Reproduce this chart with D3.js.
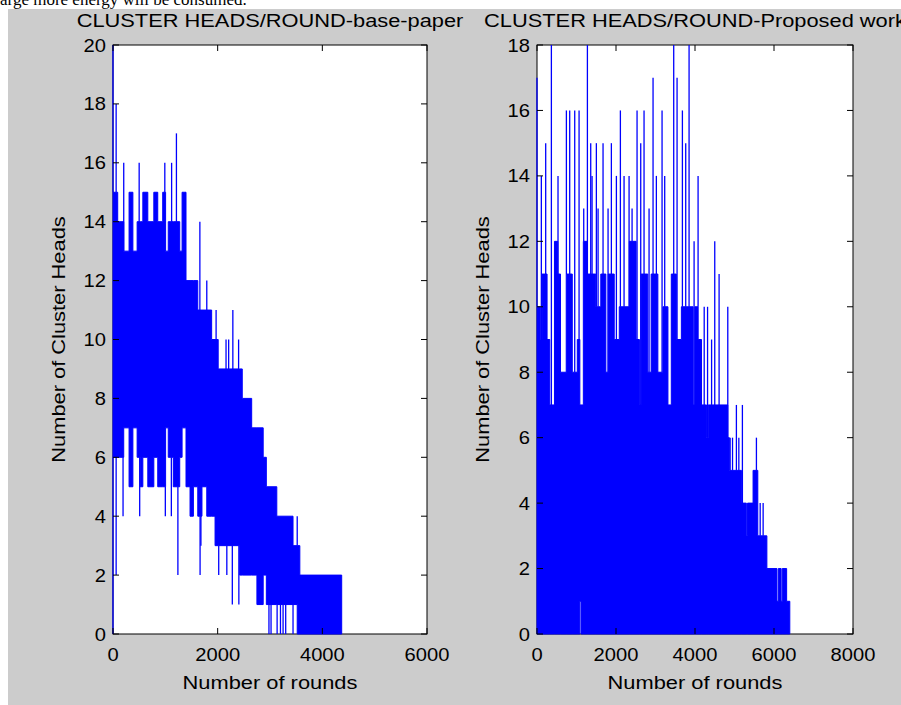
<!DOCTYPE html>
<html>
<head>
<meta charset="utf-8">
<title>Cluster heads per round</title>
<script src="https://cdnjs.cloudflare.com/ajax/libs/d3/7.8.5/d3.min.js"></script>
<style>
  html, body { margin: 0; padding: 0; background: #fff; }
  text { font-family: "Liberation Sans", Arial, sans-serif; fill: #000; }
</style>
</head>
<body>
<svg id="chart" width="901" height="705"></svg>
<script>
// base paper: the dense CH/round trace, read as a band per stretch of rounds
// (start round, upper CH count, lower CH count) plus the single spikes sticking out
var baseRounds = [0, 90, 205, 307, 380, 461, 520, 570, 665, 780, 855, 950, 1005, 1056, 1152, 1275, 1320, 1395, 1472, 1536,
                  1620, 1700, 1792, 1885, 1950, 2010, 2420, 2470, 2650, 2750, 2870, 2930, 3130, 3440, 3520, 3570];
var baseHigh = [15, 14, 13, 15, 13, 14, 14, 15, 14, 15, 14, 15, 13, 14, 14, 13, 15, 12, 12, 12,
                11, 11, 11, 10, 10, 9, 9, 8, 7, 7, 6, 5, 4, 3, 3, 2];
var baseLow = [6, 6, 7, 5, 7, 6, 5, 6, 5, 6, 5, 5, 7, 6, 5, 6, 7, 5, 4, 5,
               4, 5, 4, 4, 3, 3, 2, 2, 2, 1, 2, 1, 1, 1, 0, 0];
var baseEnd = 4370;
var baseSpikeRounds = [0, 0, 60, 60, 192, 205, 500, 510, 990, 1000, 1115, 1120, 1212, 1240, 1660, 1664, 1680, 1792,
                       1970, 2020, 2160, 2175, 2210, 2280, 2290, 2400, 2405, 2500, 2980, 3020, 3136, 3200, 3250, 3300, 3440, 3520];
var baseSpikeValues = [20, 0, 18, 2, 4, 16, 16, 4, 16, 4, 4, 16, 17, 2, 14, 2, 3, 12,
                       11, 2, 10, 2, 10, 1, 11, 10, 1, 2, 0, 0, 0, 0, 0, 0, 0, 4];

// proposed work
var propRounds = [0, 85, 128, 255, 323, 442, 527, 595, 740, 893, 1020, 1085, 1115, 1173, 1275, 1488, 1615, 1743, 1802, 1955,
                  2083, 2338, 2508, 2593, 2635, 2805, 2890, 3060, 3188, 3315, 3400, 3528, 3655, 3953, 3995, 4080, 4165, 4293, 4335, 4830,
                  4870, 5175, 5300, 5330, 5470, 5590, 5820, 6075, 6110, 6180, 6210, 6320];
var propHigh = [10, 9, 11, 9, 7, 12, 11, 8, 11, 8, 9, 7, 7, 12, 11, 10, 11, 8, 11, 9,
                10, 12, 9, 7, 11, 8, 11, 8, 10, 7, 11, 9, 10, 7, 10, 9, 7, 6, 7, 6,
                5, 4, 3, 4, 5, 3, 2, 1, 2, 1, 2, 1];
var propLow = [0, 0, 0, 0, 0, 0, 0, 0, 0, 0, 0, 1, 0, 0, 0, 0, 0, 0, 0, 0,
               0, 0, 0, 0, 0, 0, 0, 0, 0, 0, 0, 0, 0, 0, 0, 0, 0, 0, 0, 0,
               0, 0, 0, 0, 0, 0, 0, 0, 0, 0, 0, 0];
var propEnd = 6400;
var propSpikeRounds = [0, 110, 220, 364, 532, 744, 828, 955, 1065, 1183, 1276, 1360, 1394, 1503, 1546, 1672, 1799, 1883, 2010, 2111,
                       2204, 2331, 2407, 2533, 2626, 2710, 2837, 2938, 3022, 3166, 3233, 3461, 3546, 3681, 3765, 3850, 3977, 4078, 4233, 4318,
                       4420, 4500, 4610, 4830, 4890, 4950, 5048, 5110, 5200, 5555, 5650, 5725];
var propSpikeValues = [17, 14, 15, 18, 14, 16, 16, 16, 16, 13, 18, 15, 14, 15, 13, 15, 13, 15, 14, 16,
                       14, 14, 13, 16, 15, 16, 13, 17, 14, 16, 14, 18, 17, 16, 15, 18, 12, 14, 10, 10,
                       9, 12, 11, 10, 6, 6, 7, 6, 7, 6, 4, 4];

var baseXTicks = [0, 2000, 4000, 6000];
var baseYTicks = [0, 2, 4, 6, 8, 10, 12, 14, 16, 18, 20];
var propXTicks = [0, 2000, 4000, 6000, 8000];
var propYTicks = [0, 2, 4, 6, 8, 10, 12, 14, 16, 18];

var titles = ['CLUSTER HEADS/ROUND-base-paper', 'CLUSTER HEADS/ROUND-Proposed work'];
var xLabel = 'Number of rounds';
var yLabel = 'Number of Cluster Heads';

var svg = d3.select('#chart');
svg.append('rect').attr('width', 901).attr('height', 705).attr('fill', '#fff');
// bit of the document text above the figure
svg.append('text').attr('x', 0).attr('y', 5)
    .style('font-family', '"Liberation Serif", "Times New Roman", serif').style('font-size', '17px')
    .text('arge more energy will be consumed.');
svg.append('rect').attr('x', 8).attr('y', 9).attr('width', 893).attr('height', 696).attr('fill', '#cccccc');

function label(g, str, x, y, size, sx, anchor, rot) {
    g.append('text')
        .attr('transform', 'translate(' + x + ',' + y + ')' + (rot ? ' rotate(' + rot + ')' : '') + ' scale(' + sx + ',1)')
        .attr('text-anchor', anchor)
        .style('font-size', size + 'px')
        .text(str);
}

var panels = [
    {left: 113, right: 427, top: 45, bottom: 634, xMax: 6000, yMax: 20, rounds: baseRounds, high: baseHigh, low: baseLow,
     end: baseEnd, spikeR: baseSpikeRounds, spikeV: baseSpikeValues, xTicks: baseXTicks, yTicks: baseYTicks, title: titles[0], yLabelX: 65},
    {left: 537, right: 853, top: 45, bottom: 634, xMax: 8000, yMax: 18, rounds: propRounds, high: propHigh, low: propLow,
     end: propEnd, spikeR: propSpikeRounds, spikeV: propSpikeValues, xTicks: propXTicks, yTicks: propYTicks, title: titles[1], yLabelX: 489}
];

panels.forEach(function (p, k) {
    var x = d3.scaleLinear().domain([0, p.xMax]).range([p.left, p.right]);
    var y = d3.scaleLinear().domain([0, p.yMax]).range([p.bottom, p.top]);
    var g = svg.append('g');

    g.append('rect').attr('x', p.left).attr('y', p.top)
        .attr('width', p.right - p.left).attr('height', p.bottom - p.top)
        .attr('fill', '#fff').attr('stroke', '#000').attr('stroke-width', 1);

    g.append('clipPath').attr('id', 'clip' + k).append('rect')
        .attr('x', p.left - 1).attr('y', p.top - 1)
        .attr('width', p.right - p.left + 2).attr('height', p.bottom - p.top + 2);
    var data = g.append('g').attr('clip-path', 'url(#clip' + k + ')');

    var pts = p.rounds.map(function (r, i) { return {r: r, hi: p.high[i], lo: p.low[i]}; });
    pts.push({r: p.end, hi: pts[pts.length - 1].hi, lo: pts[pts.length - 1].lo});

    var area = d3.area()
        .x(function (d) { return x(d.r); })
        .y0(function (d) { return y(d.lo); })
        .y1(function (d) { return y(d.hi); })
        .curve(d3.curveStepAfter);
    data.append('path').datum(pts).attr('d', area)
        .attr('fill', '#0000ff').attr('stroke', '#0000ff').attr('stroke-width', 1);

    // spikes leave the band at its edge
    var spikes = p.spikeR.map(function (r, i) {
        var seg = pts[Math.max(0, d3.bisectRight(p.rounds, r) - 1)];
        var v = p.spikeV[i];
        return {r: r, v: v, from: v > seg.hi ? seg.hi : (v < seg.lo ? seg.lo : v)};
    });
    data.selectAll('line.spike').data(spikes).enter().append('line')
        .attr('class', 'spike')
        .attr('x1', function (d) { return x(d.r); })
        .attr('x2', function (d) { return x(d.r); })
        .attr('y1', function (d) { return y(d.from); })
        .attr('y2', function (d) { return y(d.v); })
        .attr('stroke', '#0000ff').attr('stroke-width', 1.3);

    // matlab style ticks, inward on all four sides
    var tl = 6;
    p.xTicks.forEach(function (t) {
        g.append('line').attr('x1', x(t)).attr('x2', x(t)).attr('y1', p.bottom).attr('y2', p.bottom - tl).attr('stroke', '#000');
        g.append('line').attr('x1', x(t)).attr('x2', x(t)).attr('y1', p.top).attr('y2', p.top + tl).attr('stroke', '#000');
        label(g, String(t), x(t), 661, 18, 1.12, 'middle');
    });
    p.yTicks.forEach(function (t) {
        g.append('line').attr('x1', p.left).attr('x2', p.left + tl).attr('y1', y(t)).attr('y2', y(t)).attr('stroke', '#000');
        g.append('line').attr('x1', p.right).attr('x2', p.right - tl).attr('y1', y(t)).attr('y2', y(t)).attr('stroke', '#000');
        label(g, String(t), p.left - 7, y(t) + 6.5, 18, 1.12, 'end');
    });

    var cx = (p.left + p.right) / 2;
    label(g, p.title, cx, 27, 18.5, 1.18, 'middle');
    label(g, xLabel, cx, 689, 19, 1.15, 'middle');
    label(g, yLabel, p.yLabelX, (p.top + p.bottom) / 2, 19, 1.15, 'middle', -90);
});
</script>
</body>
</html>
